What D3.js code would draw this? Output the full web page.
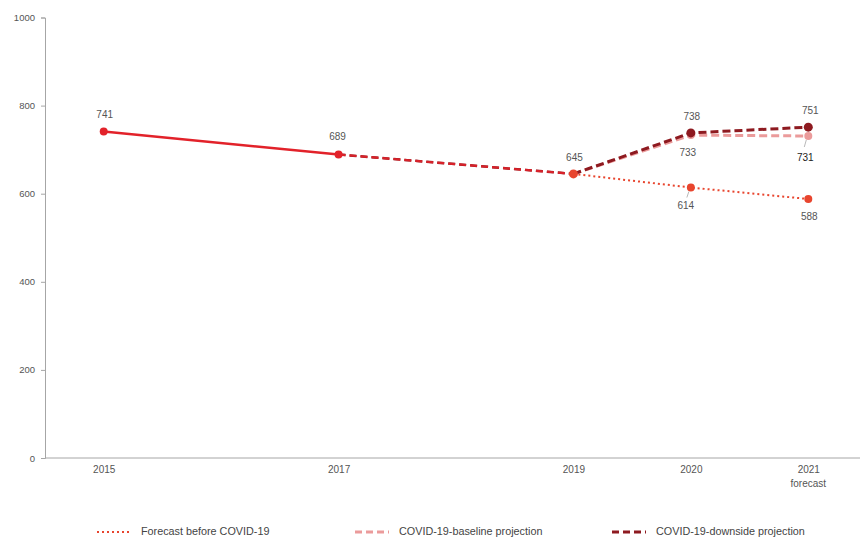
<!DOCTYPE html>
<html>
<head>
<meta charset="utf-8">
<script src="https://cdn.jsdelivr.net/npm/d3@7"></script>
<style>
  html, body { margin: 0; padding: 0; background: #fff; }
  svg { display: block; }
  text { font-family: "Liberation Sans", "DejaVu Sans", sans-serif; }
</style>
</head>
<body>
<svg id="chart" width="863" height="542"></svg>
<script>
// ---- data ----
const historyYears = [2015, 2017];
const historyValues = [741, 689];
const estimateYears = [2017, 2019];
const estimateValues = [689, 645];
const projYears = [2019, 2020, 2021];
const forecastBefore = [645, 614, 588];
const baseline = [645, 733, 731];
const downside = [645, 738, 751];
const yTicks = [0, 200, 400, 600, 800, 1000];
const xTickYears = [2015, 2017, 2019, 2020, 2021];
const xTickLabels = ["2015", "2017", "2019", "2020", "2021"];
const legendLabels = ["Forecast before COVID-19", "COVID-19-baseline projection", "COVID-19-downside projection"];

const colors = {
  history: "#e2222a",
  estimate: "#d8222a",
  forecast: "#e8452e",
  baseline: "#eb9b9b",
  downside: "#8e1a20"
};

const svg = d3.select("#chart");
const x = d3.scaleLinear().domain([2014.5, 2021.5]).range([45, 867]);
const y = d3.scaleLinear().domain([0, 1000]).range([458, 17.5]);

// axes
const yAxis = svg.append("g").attr("transform", "translate(45,0)")
  .call(d3.axisLeft(y).tickValues(yTicks).tickFormat(d3.format("d")).tickSize(4).tickPadding(6));
yAxis.select(".domain").attr("stroke", "#a6a6a6");
yAxis.selectAll(".tick line").attr("stroke", "#a6a6a6");
yAxis.selectAll(".tick text").attr("fill", "#555").attr("font-size", 9.5);

const xAxis = svg.append("g").attr("transform", "translate(0,458)")
  .call(d3.axisBottom(x).tickValues(xTickYears).tickFormat((d, i) => xTickLabels[i]).tickSize(0).tickPadding(8));
xAxis.select(".domain").attr("stroke", "#a6a6a6").attr("d", "M45,0H860");
xAxis.selectAll(".tick text").attr("fill", "#555").attr("font-size", 10);
svg.append("text").attr("x", x(2021)).attr("y", 487).attr("text-anchor", "middle")
  .attr("fill", "#555").attr("font-size", 10).text("forecast");

const line = d3.line().x(d => x(d[0])).y(d => y(d[1]));
function drawLine(years, vals, color, width, dash) {
  svg.append("path").datum(years.map((yr, i) => [yr, vals[i]]))
    .attr("d", line).attr("fill", "none").attr("stroke", color)
    .attr("stroke-width", width).attr("stroke-dasharray", dash || null);
}
function drawPoints(years, vals, color, r) {
  svg.append("g").selectAll("circle").data(years.map((yr, i) => [yr, vals[i]]))
    .join("circle").attr("cx", d => x(d[0])).attr("cy", d => y(d[1]))
    .attr("r", r).attr("fill", color);
}

// lines
drawLine(historyYears, historyValues, colors.history, 2.5);
drawLine(estimateYears, estimateValues, colors.downside, 2.5, "7,4");
drawLine(estimateYears, estimateValues, colors.estimate, 2.2, "7,4");
drawLine(projYears, forecastBefore, colors.forecast, 2, "2,3");
drawLine(projYears, baseline, colors.baseline, 3, "8,4");
drawLine(projYears, downside, colors.downside, 3, "8,4");

// points
drawPoints(historyYears, historyValues, colors.history, 4);
drawPoints(projYears.slice(1), forecastBefore.slice(1), colors.forecast, 4);
drawPoints(projYears.slice(1), baseline.slice(1), colors.baseline, 4);
drawPoints(projYears.slice(1), downside.slice(1), colors.downside, 4.5);
drawPoints([2019], [645], colors.forecast, 4.5);

// data labels
function label(year, val, dx, dy, color) {
  svg.append("text").attr("x", x(year) + dx).attr("y", y(val) + dy)
    .attr("text-anchor", "middle").attr("dominant-baseline", "middle")
    .attr("font-size", 10).attr("fill", color || "#555").text(val);
}
label(2015, historyValues[0], 1, -16);
label(2017, historyValues[1], -1, -17);
label(2019, forecastBefore[0], 1, -16);
label(2020, downside[1], 1, -16);
label(2020, baseline[1], -3, 18);
label(2020, forecastBefore[1], -5, 19);
label(2021, downside[2], 2, -16);
label(2021, baseline[2], -3, 22, "#222");
label(2021, forecastBefore[2], 1, 18);

// small leader lines
function leader(year, val, dx1, dy1, dx2, dy2) {
  svg.append("line").attr("x1", x(year) + dx1).attr("y1", y(val) + dy1)
    .attr("x2", x(year) + dx2).attr("y2", y(val) + dy2)
    .attr("stroke", "#999").attr("stroke-width", 0.7);
}
leader(2020, forecastBefore[1], -2, 4, -4, 10);
leader(2021, baseline[2], -2, 4, -4, 11);

// legend
const legendItems = [
  { x: 97, color: colors.forecast, dash: "2,3", w: 2 },
  { x: 355, color: colors.baseline, dash: "7,4", w: 3 },
  { x: 612, color: colors.downside, dash: "7,4", w: 3 }
];
legendItems.forEach((it, i) => {
  svg.append("line").attr("x1", it.x).attr("x2", it.x + 34).attr("y1", 532).attr("y2", 532)
    .attr("stroke", it.color).attr("stroke-width", it.w).attr("stroke-dasharray", it.dash);
  svg.append("text").attr("x", it.x + 44).attr("y", 532).attr("dominant-baseline", "middle")
    .attr("font-size", 10.8).attr("fill", "#444").text(legendLabels[i]);
});
</script>
</body>
</html>
